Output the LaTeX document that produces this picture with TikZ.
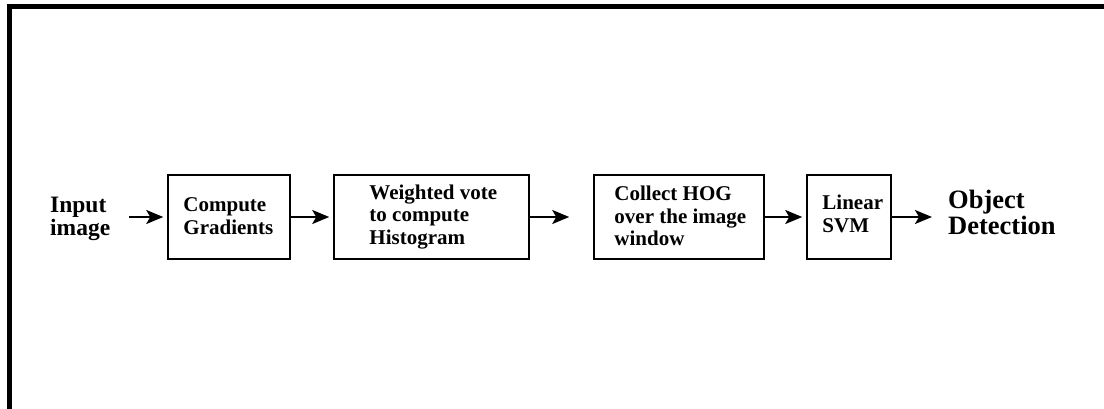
\documentclass[tikz,border=0pt]{standalone}
\usepackage{fontspec}
\setmainfont{Liberation Serif}
\usetikzlibrary{arrows.meta}
\begin{document}
\begin{tikzpicture}[x=1pt,y=-1pt,
  stage/.style={draw, line width=1.5pt, minimum height=84pt, inner sep=0pt},
  lbl/.style={anchor=west, align=left, inner sep=0pt, font=\bfseries\fontsize{21}{22.5}\selectfont},
  ends/.style={anchor=west, align=left, inner sep=0pt},
  arr/.style={line width=2pt, shorten >=4pt, -{Stealth[length=17pt,width=14pt,inset=4pt]}}]
\useasboundingbox (0,0) rectangle (1104,409);
% frame edges along the top and the left
\fill (7,4) rectangle (1104,9);
\fill (7,4) rectangle (12,409);
% stages
\node[stage, minimum width=122pt] (b1) at (229,217) {};
\node[stage, minimum width=195pt] (b2) at (431.5,217) {};
\node[stage, minimum width=170pt] (b3) at (679,217) {};
\node[stage, minimum width=84pt]  (b4) at (849,217) {};
\node[lbl] (t1) at ([xshift=16pt,yshift=1pt]b1.west) {Compute\\Gradients};
\node[lbl] (t2) at ([xshift=36pt,yshift=0pt]b2.west) {Weighted vote\\to compute\\Histogram};
\node[lbl] (t3) at ([xshift=21pt,yshift=1pt]b3.west) {Collect HOG\\over the image\\window};
\node[lbl] (t4) at ([xshift=16pt,yshift=3pt]b4.west) {Linear\\SVM};
% input and output labels
\node[ends, font=\bfseries\fontsize{23.5}{23}\selectfont] (inp) at (50,219) {Input\\image};
\node[ends, font=\bfseries\fontsize{26.5}{26}\selectfont] (out) at (948,212) {Object\\Detection};
% flow
\draw[arr] (inp.east |- b1.west) ++(19pt,0) -- (b1.west);
\draw[arr] (b1.east) -- (b2.west);
\draw[arr, shorten >=24pt] (b2.east) -- (b3.west);
\draw[arr] (b3.east) -- (b4.west);
\draw[arr, shorten >=16pt] (b4.east) -- (b4.east -| out.west);
\end{tikzpicture}
\end{document}
